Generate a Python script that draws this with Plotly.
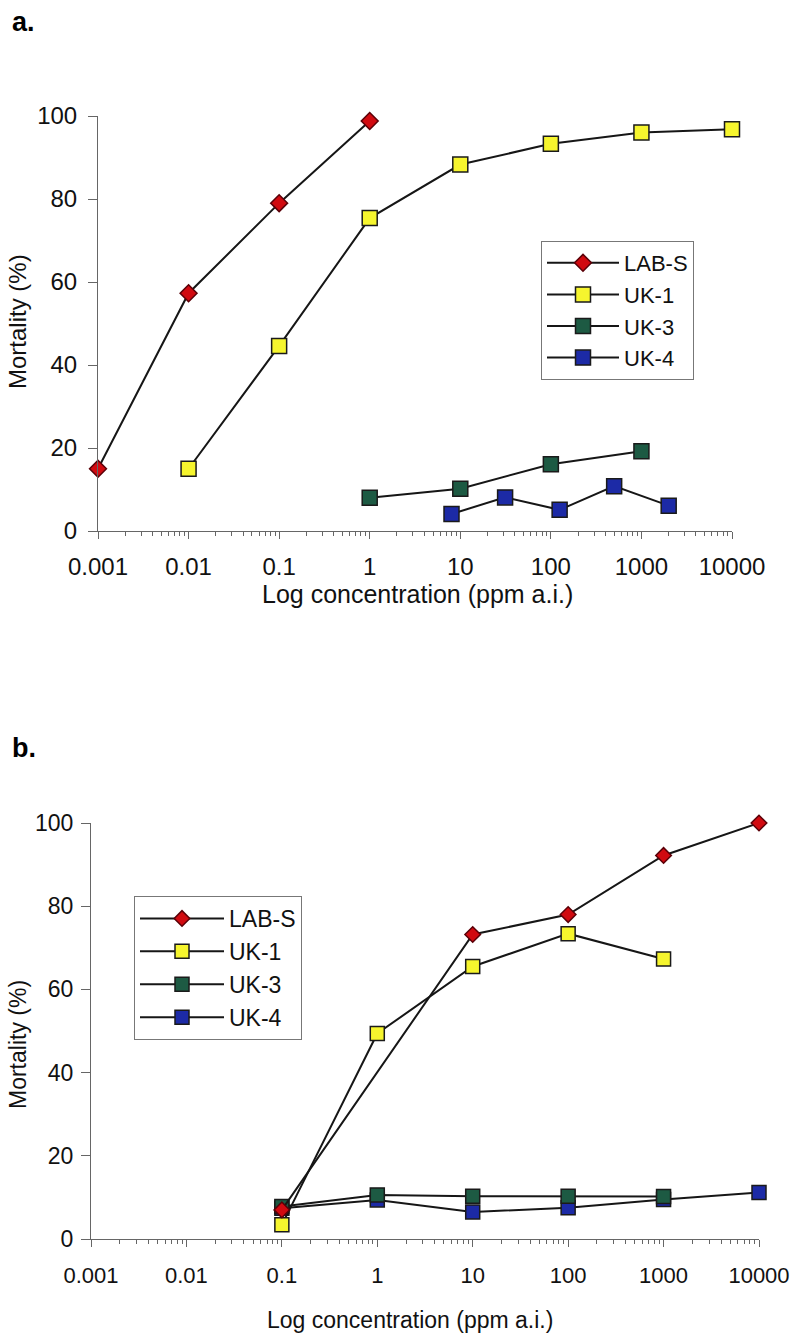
import plotly.graph_objects as go

# ---- Panel a: mortality vs concentration ----
a_labs_x = [0.001, 0.01, 0.1, 1]
a_labs_y = [15, 57.3, 79, 98.8]
a_uk1_x = [0.01, 0.1, 1, 10, 100, 1000, 10000]
a_uk1_y = [15, 44.6, 75.4, 88.3, 93.3, 96, 96.8]
a_uk3_x = [1, 10, 100, 1000]
a_uk3_y = [8, 10.2, 16.1, 19.2]
a_uk4_x = [8, 31.25, 125, 500, 2000]
a_uk4_y = [4.1, 8.1, 5.1, 10.8, 6.1]

# ---- Panel b ----
b_labs_x = [0.1, 10, 100, 1000, 10000]
b_labs_y = [7, 73.2, 78, 92.2, 100]
b_uk1_x = [0.1, 1, 10, 100, 1000]
b_uk1_y = [3.4, 49.4, 65.5, 73.4, 67.3]
b_uk3_x = [0.1, 1, 10, 100, 1000]
b_uk3_y = [7.8, 10.6, 10.3, 10.3, 10.2]
b_uk4_x = [0.1, 1, 10, 100, 1000, 10000]
b_uk4_y = [7.4, 9.4, 6.5, 7.5, 9.5, 11.2]

tick_vals = [0.001, 0.01, 0.1, 1, 10, 100, 1000, 10000]
tick_text = ["0.001", "0.01", "0.1", "1", "10", "100", "1000", "10000"]
minor_vals = [k * 10 ** e for e in range(-3, 4) for k in range(2, 10)]

FONT = "Liberation Sans, Arial, sans-serif"
LINE = "#161616"

styles = {
    "LAB-S": dict(symbol="diamond", color="#d10a10", line=dict(color="#5a0008", width=1.5)),
    "UK-1": dict(symbol="square", color="#f6f52e", line=dict(color="#1a1a1a", width=1.5)),
    "UK-3": dict(symbol="square", color="#1d5a43", line=dict(color="#1a1a1a", width=1.5)),
    "UK-4": dict(symbol="square", color="#1c2aa6", line=dict(color="#1a1a1a", width=1.5)),
}

fig = go.Figure()


def add_series(name, xs, ys, xa, ya, legend, sq, dm):
    st = styles[name]
    size = dm if st["symbol"] == "diamond" else sq
    fig.add_trace(go.Scatter(
        x=xs, y=ys, name=name, mode="lines+markers",
        xaxis=xa, yaxis=ya, legend=legend, cliponaxis=False,
        line=dict(color=LINE, width=2),
        marker=dict(symbol=st["symbol"], color=st["color"], size=size, line=st["line"]),
    ))


add_series("LAB-S", a_labs_x, a_labs_y, "x", "y", "legend", 15, 13)
add_series("UK-1", a_uk1_x, a_uk1_y, "x", "y", "legend", 15, 13)
add_series("UK-3", a_uk3_x, a_uk3_y, "x", "y", "legend", 15, 13)
add_series("UK-4", a_uk4_x, a_uk4_y, "x", "y", "legend", 15, 13)

add_series("UK-4", b_uk4_x, b_uk4_y, "x2", "y2", "legend2", 14, 12)
add_series("UK-3", b_uk3_x, b_uk3_y, "x2", "y2", "legend2", 14, 12)
add_series("UK-1", b_uk1_x, b_uk1_y, "x2", "y2", "legend2", 14, 12)
add_series("LAB-S", b_labs_x, b_labs_y, "x2", "y2", "legend2", 14, 12)

W, H = 792, 1338


def px_x(p):
    return p / W


def px_y(p):
    return 1 - p / H


def xaxis(domain, anchor, size, standoff):
    return dict(
        type="log", range=[-3, 4], domain=domain, anchor=anchor, automargin=False,
        tickvals=tick_vals, ticktext=tick_text,
        ticks="outside", ticklen=7, tickwidth=1, tickcolor="#666",
        showline=True, linecolor="#666", linewidth=1,
        showgrid=False, zeroline=False,
        minor=dict(tickvals=minor_vals, ticks="outside", ticklen=4,
                   tickwidth=1, tickcolor="#666", showgrid=False),
        tickfont=dict(family=FONT, size=size, color="#111"),
        ticklabelstandoff=standoff,
    )


def yaxis(domain, anchor, size, standoff):
    return dict(
        range=[0, 100], domain=domain, anchor=anchor, automargin=False,
        tickvals=[0, 20, 40, 60, 80, 100],
        ticks="outside", ticklen=9, tickwidth=1, tickcolor="#666",
        showline=True, linecolor="#666", linewidth=1,
        showgrid=False, zeroline=False,
        tickfont=dict(family=FONT, size=size, color="#111"),
        ticklabelstandoff=standoff,
    )


fig.update_layout(
    width=W, height=H,
    margin=dict(l=0, r=0, t=0, b=0, pad=0, autoexpand=False),
    paper_bgcolor="white", plot_bgcolor="rgba(0,0,0,0)",
    xaxis=xaxis([px_x(98), px_x(732)], "y", 24, 7),
    yaxis=yaxis([px_y(531), px_y(116)], "x", 24, 6),
    xaxis2=xaxis([px_x(91), px_x(759)], "y2", 22, 10),
    yaxis2=yaxis([px_y(1239), px_y(823)], "x2", 23, 3),
    legend=dict(
        x=px_x(541), y=px_y(241), xanchor="left", yanchor="top",
        bordercolor="#777", borderwidth=1, bgcolor="white",
        font=dict(family=FONT, size=22, color="#111"),
        tracegroupgap=0, itemwidth=72,
    ),
    legend2=dict(
        x=px_x(134), y=px_y(896), xanchor="left", yanchor="top",
        bordercolor="#777", borderwidth=1, bgcolor="white",
        font=dict(family=FONT, size=23, color="#111"),
        tracegroupgap=0, itemwidth=84, traceorder="reversed",
    ),
    showlegend=True,
)

annos = [
    dict(text="<b>a.</b>", x=px_x(10), y=px_y(22), xanchor="left", yanchor="middle",
         font=dict(family=FONT, size=27, color="#000")),
    dict(text="<b>b.</b>", x=px_x(10), y=px_y(748), xanchor="left", yanchor="middle",
         font=dict(family=FONT, size=27, color="#000")),
    dict(text="Log concentration (ppm a.i.)", x=px_x(417), y=px_y(594),
         xanchor="center", yanchor="middle",
         font=dict(family=FONT, size=25, color="#111")),
    dict(text="Log concentration (ppm a.i.)", x=px_x(410), y=px_y(1320),
         xanchor="center", yanchor="middle",
         font=dict(family=FONT, size=23, color="#111")),
    dict(text="Mortality (%)", x=px_x(18), y=px_y(322), textangle=-90,
         xanchor="center", yanchor="middle",
         font=dict(family=FONT, size=24, color="#111")),
    dict(text="Mortality (%)", x=px_x(18), y=px_y(1045), textangle=-90,
         xanchor="center", yanchor="middle",
         font=dict(family=FONT, size=23, color="#111")),
]
for a in annos:
    a.update(xref="paper", yref="paper", showarrow=False)
fig.update_layout(annotations=annos)

fig.write_html("out.html")
